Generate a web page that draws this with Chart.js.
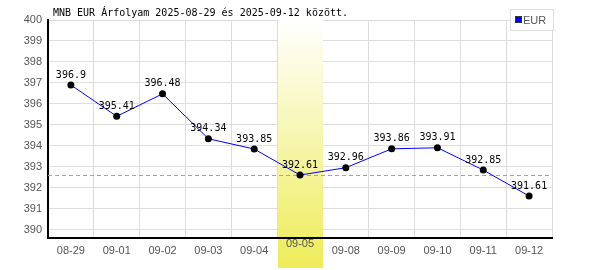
<!DOCTYPE html>
<html>
<head>
<meta charset="utf-8">
<script src="https://cdn.jsdelivr.net/npm/chart.js@4/dist/chart.umd.min.js"></script>
<style>
html,body{margin:0;padding:0;background:#fff;}
#wrap{width:600px;height:270px;position:relative;}
</style>
</head>
<body>
<div id="wrap"><canvas id="c" width="600" height="270"></canvas></div>
<script>
const categories = ["08-29","09-01","09-02","09-03","09-04","09-05","09-08","09-09","09-10","09-11","09-12"];
const eurValues = [396.9,395.41,396.48,394.34,393.85,392.61,392.96,393.86,393.91,392.85,391.61];
const valueLabels = ["396.9","395.41","396.48","394.34","393.85","392.61","392.96","393.86","393.91","392.85","391.61"];
const highlightCategory = "09-05";
const referenceValue = 392.61;
const seriesName = "EUR";
const titleText = "MNB EUR Árfolyam 2025-08-29 és 2025-09-12 között.";
const yMin = 389.61, yMax = 400;

const tickFont = '"Liberation Sans", Arial, sans-serif';

const highlightPlugin = {
  id: 'highlight',
  beforeDatasetsDraw(chart) {
    const ctx = chart.ctx, x = chart.scales.x, y = chart.scales.y, a = chart.chartArea;
    const idx = categories.indexOf(highlightCategory);
    const cx = x.getPixelForValue(idx);
    const half = (a.right - a.left) / categories.length / 2;
    ctx.save();
    const g = ctx.createLinearGradient(0, a.top, 0, 268);
    g.addColorStop(0, '#ffffff');
    g.addColorStop(1, '#eeec58');
    ctx.fillStyle = g;
    ctx.fillRect(Math.round(cx - half) + 1, a.top, Math.round(2 * half) - 1, 268 - a.top);
    // redraw bottom axis over highlight
    ctx.strokeStyle = '#000';
    ctx.lineWidth = 2;
    ctx.beginPath();
    ctx.moveTo(a.left, a.bottom);
    ctx.lineTo(a.right, a.bottom);
    ctx.stroke();
    // redraw the highlighted tick label
    ctx.fillStyle = '#555';
    ctx.font = '11px ' + tickFont;
    let drawn = false;
    try {
      const items = x.getLabelItems();
      const it = items && items[idx];
      if (it) {
        ctx.textAlign = it.options.textAlign || 'center';
        ctx.textBaseline = it.options.textBaseline || 'middle';
        const tr = it.options.translation;
        ctx.fillText(categories[idx], tr[0], tr[1]);
        drawn = true;
      }
    } catch (e) {}
    if (!drawn) {
      ctx.textAlign = 'center';
      ctx.textBaseline = 'top';
      ctx.fillText(categories[idx], cx, a.bottom + 7);
    }
    // reference dashed line
    const ry = Math.round(y.getPixelForValue(referenceValue)) + 0.5;
    ctx.strokeStyle = '#9a9aee';
    ctx.lineWidth = 1;
    ctx.setLineDash([4, 3]);
    ctx.beginPath();
    ctx.moveTo(a.left, ry);
    ctx.lineTo(a.right, ry);
    ctx.stroke();
    ctx.restore();
  },
  afterDatasetsDraw(chart) {
    const ctx = chart.ctx;
    const meta = chart.getDatasetMeta(0);
    ctx.save();
    ctx.font = '10px "DejaVu Sans Mono", monospace';
    ctx.fillStyle = '#000';
    ctx.textAlign = 'center';
    ctx.textBaseline = 'middle';
    meta.data.forEach((pt, i) => {
      ctx.fillText(valueLabels[i], pt.x, pt.y - 10);
    });
    ctx.restore();
  },
  afterDraw(chart) {
    const ctx = chart.ctx;
    ctx.save();
    // title
    ctx.font = '10px "DejaVu Sans Mono", monospace';
    ctx.fillStyle = '#000';
    ctx.textAlign = 'left';
    ctx.textBaseline = 'middle';
    ctx.fillText(titleText, 53, 13);
    // legend
    ctx.fillStyle = '#fff';
    ctx.fillRect(511, 10, 42, 20);
    ctx.strokeStyle = '#dddddd';
    ctx.lineWidth = 1;
    ctx.strokeRect(510.5, 9.5, 43, 21);
    ctx.fillStyle = '#0000ff';
    ctx.fillRect(516, 17, 6, 6);
    ctx.strokeStyle = '#333';
    ctx.strokeRect(515.5, 16.5, 6, 6);
    ctx.font = '11px ' + tickFont;
    ctx.fillStyle = '#555';
    ctx.textBaseline = 'middle';
    ctx.fillText(seriesName, 523, 20.5);
    ctx.restore();
  }
};

new Chart(document.getElementById('c'), {
  type: 'line',
  data: {
    labels: categories,
    datasets: [{
      label: seriesName,
      data: eurValues,
      borderColor: '#0000ff',
      borderWidth: 1,
      pointBackgroundColor: '#000',
      pointBorderColor: '#000',
      pointRadius: 3.5,
      pointBorderWidth: 0,
      tension: 0,
      fill: false
    }]
  },
  options: {
    responsive: false,
    animation: false,
    devicePixelRatio: 1,
    layout: { padding: { top: 20, right: 48, left: 0, bottom: 0 } },
    plugins: { legend: { display: false }, title: { display: false }, tooltip: { enabled: false } },
    scales: {
      x: {
        offset: true,
        grid: { offset: true, color: '#dddddd', lineWidth: 1, drawTicks: false },
        border: { color: '#000', width: 2 },
        ticks: { color: '#555', font: { family: tickFont, size: 11 }, padding: 6, maxRotation: 0, autoSkip: false },
        afterFit(s) { s.height = 32; }
      },
      y: {
        min: yMin, max: yMax,
        grid: { color: '#dddddd', lineWidth: 1, drawTicks: false },
        border: { color: '#000', width: 2 },
        ticks: { stepSize: 1, includeBounds: false, color: '#555', font: { family: tickFont, size: 11 }, padding: 6 },
        afterBuildTicks(s) { s.ticks = s.ticks.filter(t => Math.abs(t.value - Math.round(t.value)) < 1e-6); },
        afterFit(s) { s.width = 48; }
      }
    }
  },
  plugins: [highlightPlugin]
});
</script>
</body>
</html>
